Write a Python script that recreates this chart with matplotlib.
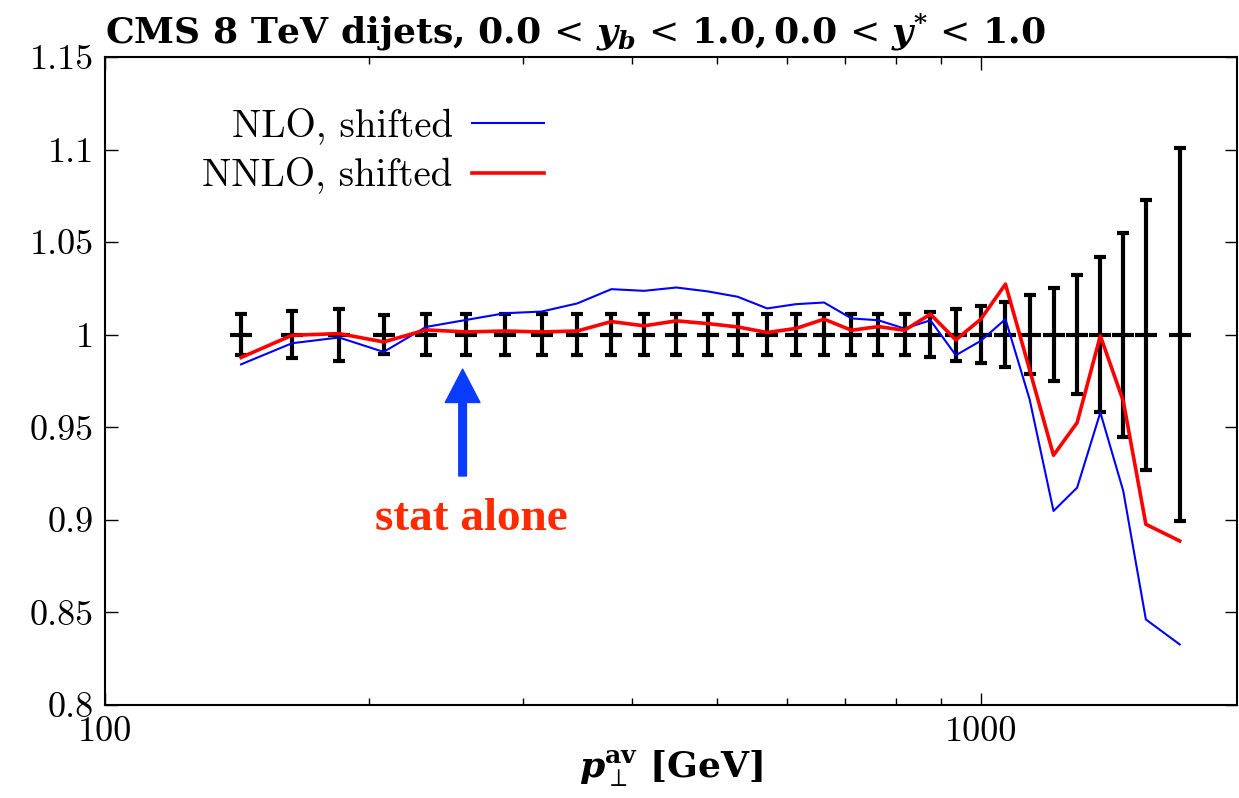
import numpy as np
import matplotlib
matplotlib.use('Agg')
import matplotlib.pyplot as plt
from matplotlib.ticker import FixedLocator, NullFormatter

plt.rcParams['font.family'] = 'serif'
plt.rcParams['font.serif'] = ['cmr10']
plt.rcParams['mathtext.fontset'] = 'cm'
plt.rcParams['axes.unicode_minus'] = False
plt.rcParams['axes.formatter.use_mathtext'] = True

# bin centres of p_T^av [GeV]
pt = [143, 163.5, 185, 208, 232.5, 258.5, 286, 315, 346, 378.5, 412.5, 449,
      487.5, 527.5, 570, 615, 662, 711.5, 763.5, 818, 875.5, 936, 999.5,
      1066.5, 1136.5, 1210, 1287.5, 1368.5, 1453.5, 1542.5, 1686]

# relative statistical uncertainty of the data
stat = [0.011, 0.0128, 0.014, 0.0105, 0.011, 0.011, 0.011, 0.011, 0.011,
        0.011, 0.011, 0.011, 0.011, 0.011, 0.011, 0.011, 0.011, 0.011,
        0.011, 0.011, 0.012, 0.014, 0.0155, 0.0177, 0.0213, 0.025, 0.032,
        0.042, 0.055, 0.073, 0.1006]

nlo = [0.984, 0.9954, 0.9985, 0.9907, 1.0042, 1.008, 1.0116, 1.0125, 1.0169,
       1.0246, 1.0237, 1.0255, 1.0234, 1.0205, 1.0142, 1.0165, 1.0174, 1.0088,
       1.0078, 1.0033, 1.0078, 0.9889, 0.9967, 1.0084, 0.965, 0.9048, 0.9174,
       0.958, 0.9156, 0.8462, 0.8327]

nnlo = [0.9877, 0.9997, 1.0006, 0.9961, 1.0026, 1.0015, 1.002, 1.0015, 1.002,
        1.0071, 1.0048, 1.0075, 1.006, 1.0042, 1.0012, 1.0034, 1.0084, 1.0024,
        1.0044, 1.0024, 1.0111, 0.9972, 1.0084, 1.0273, 0.981, 0.9349, 0.9525,
        0.9994, 0.9642, 0.8976, 0.8886]

yticks = [0.8, 0.85, 0.9, 0.95, 1.0, 1.05, 1.1, 1.15]
ylabels = ['0.8', '0.85', '0.9', '0.95', '1', '1.05', '1.1', '1.15']

fig = plt.figure(figsize=(12.39, 7.98), dpi=100)
ax = fig.add_axes([105 / 1239, 1 - 705 / 798, 1132 / 1239, 648 / 798])

ax.errorbar(pt, np.ones(len(pt)), yerr=stat, fmt='_', color='k',
            markersize=16, markeredgewidth=3, elinewidth=3, capsize=4.5,
            capthick=3, zorder=2)
ax.plot(pt, nlo, color='#0000ff', lw=1.5, label='NLO, shifted', zorder=3)
ax.plot(pt, nnlo, color='#ff0000', lw=2.6, label='NNLO, shifted', zorder=4)

ax.set_xscale('log')
ax.set_xlim(100, 1960)
ax.set_ylim(0.8, 1.15)
ax.set_xticks([100, 1000])
ax.set_xticklabels(['100', '1000'])
ax.xaxis.set_minor_locator(FixedLocator([200, 300, 400, 500, 600, 700, 800, 900]))
ax.xaxis.set_minor_formatter(NullFormatter())
ax.set_yticks(yticks)
ax.set_yticklabels(ylabels)
ax.tick_params(which='both', direction='in', top=True, right=True,
               labelsize=26, width=1)
ax.tick_params(which='major', length=9, pad=8)
ax.tick_params(which='minor', length=5)
for s in ax.spines.values():
    s.set_linewidth(1.5)

ax.set_title(r'CMS 8 TeV dijets, $\mathbf{0.0}\,<\,\mathbfit{y_b}\,<\,'
             r'\mathbf{1.0,} \mathbf{0.0}\,<\,\mathbfit{y}^{\mathbf{*}}\,<\,\mathbf{1.0}$',
             loc='left', fontsize=26, pad=10, family='DejaVu Serif',
             fontweight='bold', math_fontfamily='dejavuserif')
ax.set_xlabel(r'$\mathbfit{p}_{\perp}^{\mathbf{av}}$ [GeV]', fontsize=26,
              labelpad=0, family='DejaVu Serif', fontweight='bold',
              math_fontfamily='dejavuserif')

ax.legend(loc='upper left', bbox_to_anchor=(0.055, 0.975), frameon=False,
          markerfirst=False, fontsize=28, handlelength=1.85,
          handletextpad=0.5, labelspacing=0.33)

ax.annotate('', xy=(256, 0.9814), xytext=(256, 0.9237),
            arrowprops=dict(width=5.5, headwidth=25, headlength=24,
                            color='#0a3cff', shrink=0))
ax.text(262, 0.9003, 'stat alone', color='#ff2a00', fontsize=34,
        family='Liberation Serif', fontweight='bold', ha='center', va='center')

fig.savefig('out.png', dpi=100)
